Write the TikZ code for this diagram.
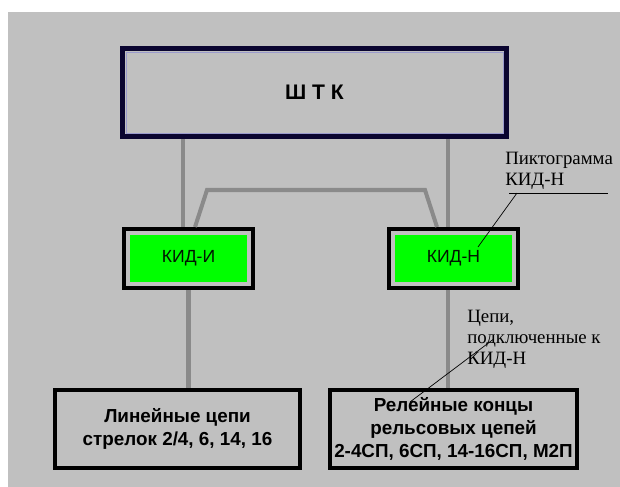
\documentclass[tikz,border=0pt]{standalone}
\usepackage{fontspec}
\setmainfont{Liberation Serif}
\setsansfont{Liberation Sans}
\usetikzlibrary{calc}

\definecolor{bggray}{HTML}{C0C0C0}
\definecolor{linkgray}{HTML}{8A8A8A}
\definecolor{navy}{HTML}{0A0530}
\definecolor{kidgreen}{HTML}{00FF00}

\begin{document}
\begin{tikzpicture}[
    x=0.025cm, y=-0.025cm,
    shtkbox/.style={rectangle, draw=navy, line width=3.5pt, fill=bggray, minimum width=9.6cm, minimum height=2.2cm, font=\sffamily\bfseries\fontsize{15}{17}\selectfont},
    kidbox/.style={rectangle, draw=black, line width=2.85pt, fill=bggray, minimum width=3.225cm, minimum height=1.475cm},
    kidfill/.style={rectangle, fill=kidgreen, minimum width=2.9cm, minimum height=1.15cm, text=black!80!green!40!black, font=\sffamily\fontsize{12.5}{14}\selectfont},
    chainbox/.style={rectangle, draw=black, line width=2.85pt, fill=bggray, minimum width=6.125cm, minimum height=1.95cm, align=center, font=\sffamily\bfseries\fontsize{13.4}{16.5}\selectfont},
    note/.style={anchor=north west, align=left, inner sep=0pt, font=\fontsize{13.4}{15}\selectfont},
    link/.style={draw=linkgray, line width=2.85pt},
    leader/.style={draw=black, line width=0.5pt}
]
\useasboundingbox (0,0) rectangle (620,487);
\fill[bggray] (8,12) rectangle (620,487);

% ШТК
\node[shtkbox] (shtk) at (314.5,92.5) {Ш Т К};
\draw[draw=blue!20!bggray, line width=0.6pt] ($(shtk.north west)+(6,6)$) rectangle ($(shtk.south east)+(-6,-6)$);

% KID boxes
\node[kidbox] (kidi) at (188.5,258.5) {};
\node[kidfill] (kidi-txt) at (kidi) {КИД-И};
\node[kidbox] (kidn) at (453.5,258.5) {};
\node[kidfill] (kidn-txt) at (kidn) {КИД-Н};

% Chains
\node[chainbox] (linbox) at (177.5,429) {Линейные цепи\\стрелок 2/4, 6, 14, 16};
\node[chainbox] (relbox) at (453.5,429) {Релейные концы\\рельсовых цепей\\2-4СП, 6СП, 14-16СП, М2П};

% Links
\coordinate (kidi-up) at ($(kidi.north)+(-5.5,0)$);
\coordinate (kidn-up) at ($(kidn.north)+(-5.5,0)$);
\coordinate (kidn-down) at ($(kidn.south)+(-5.5,0)$);
\draw[link] (kidi-up) -- (kidi-up |- shtk.south);
\draw[link] (kidn-up) -- (kidn-up |- shtk.south);
\draw[link] ($(kidi.north)+(6.5,0)$) -- (207,190) -- (425,190) -- ($(kidn.north)+(-16.5,0)$);
\draw[link] (kidi.south) -- (kidi.south |- linbox.north);
\draw[link] (kidn-down) -- (kidn-down |- relbox.north);

% Notes
\node[note] (pikt) at (505,152) {Пиктограмма\\КИД-Н};
\coordinate (pikt-end) at (478,247);
\draw[leader] (pikt.south west) ++(4,3) coordinate (pikt-ul) -- ++(99,0);
\draw[leader] ($(pikt-ul)+(8,0)$) -- (pikt-end);

\node[note] (cepi) at (467,310) {Цепи,\\подключенные к\\КИД-Н};
\coordinate (cepi-end) at (410,402);
\draw[leader] ($(cepi.west)+(26,0)$) -- (cepi-end);
\end{tikzpicture}
\end{document}
